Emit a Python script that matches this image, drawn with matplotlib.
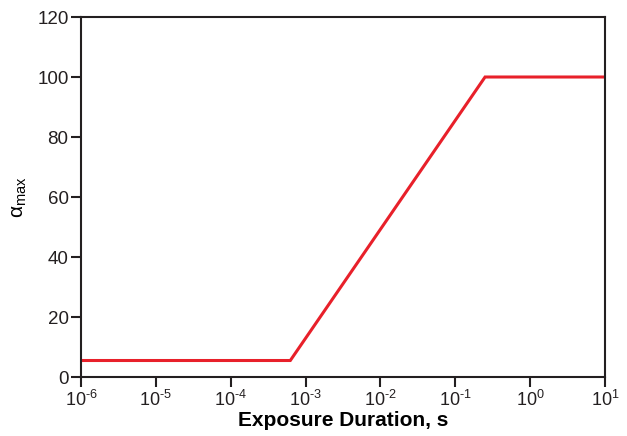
import matplotlib
matplotlib.use("Agg")
import matplotlib.pyplot as plt
import numpy as np

# Data
exposure_s = [1e-6, 6.25e-4, 0.25, 10.0]
alpha_max = [5.5, 5.5, 100.0, 100.0]
x_ticks = [1e-6, 1e-5, 1e-4, 1e-3, 1e-2, 1e-1, 1e0, 1e1]
x_tick_labels = ["10$^{\u20106}$", "10$^{\u20105}$", "10$^{\u20104}$", "10$^{\u20103}$",
                 "10$^{\u20102}$", "10$^{\u20101}$", "10$^{0}$", "10$^{1}$"]
y_ticks = [0, 20, 40, 60, 80, 100, 120]

plt.rcParams['font.family'] = ['Liberation Sans', 'DejaVu Sans']
plt.rcParams['mathtext.fontset'] = 'custom'
plt.rcParams['mathtext.rm'] = 'Liberation Sans'
plt.rcParams['mathtext.it'] = 'Liberation Sans'
plt.rcParams['mathtext.bf'] = 'Liberation Sans:bold'

fig = plt.figure(figsize=(6.27, 4.36), dpi=100)
ax = fig.add_axes([0.1292, 0.1353, 0.8357, 0.8257])

ax.plot(exposure_s, alpha_max, color='#E8202A', lw=2.2, solid_joinstyle='miter')

ax.set_xscale('log')
ax.set_xlim(1e-6, 1e1)
ax.set_ylim(0, 120)
ax.set_xticks(x_ticks)
ax.set_xticklabels(x_tick_labels)
ax.xaxis.set_minor_locator(matplotlib.ticker.NullLocator())
ax.set_yticks(y_ticks)

for s in ax.spines.values():
    s.set_linewidth(1.5)
    s.set_color('#231F20')

ax.tick_params(axis='both', direction='out', length=7, width=1.5,
               colors='#231F20', pad=2)
ax.tick_params(axis='x', labelsize=13)
ax.tick_params(axis='y', labelsize=13.5)

ax.set_xlabel('Exposure Duration, s', fontsize=15, fontweight='bold', labelpad=1)
ax.set_ylabel(r'$\mathrm{\alpha}_{\mathrm{max}}$', fontsize=15, labelpad=6)

fig.savefig('out.png', dpi=100)
